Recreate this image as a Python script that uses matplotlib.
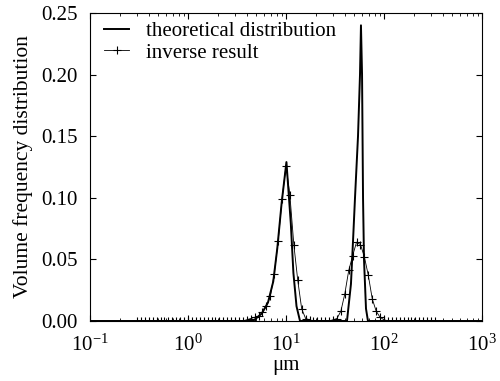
import matplotlib
matplotlib.use("Agg")
import matplotlib.pyplot as plt
from matplotlib.ticker import LogLocator

plt.rcParams['font.family'] = ['Liberation Serif', 'DejaVu Serif']
plt.rcParams['mathtext.fontset'] = 'stix'

# theoretical distribution (size in um, volume frequency)
theo_x = [0.1, 4.0, 4.61, 5.65, 6.55, 7.41, 8.15, 9.03, 10.1, 11.2, 11.9, 12.8, 13.9, 14.5,
          40.0, 41.9, 46.0, 48.3, 50.6, 54.3, 56.9, 58.2, 59.7, 61.1, 62.5, 65.5, 68.6, 72.0, 1000.0]
theo_y = [0.0, 0.0, 0.0, 0.006, 0.015, 0.032, 0.059, 0.096, 0.129, 0.079, 0.039, 0.012, 0.0, 0.0,
          0.0, 0.0, 0.03, 0.065, 0.10, 0.15, 0.20, 0.24, 0.20, 0.10, 0.05, 0.01, 0.0, 0.0, 0.0]

# inverse result
inv_x = [0.302, 0.331, 0.363, 0.398, 0.437, 0.479, 0.525, 0.575, 0.631, 0.692, 0.759, 0.832,
         0.912, 1.0, 1.096, 1.202, 1.318, 1.445, 1.585, 1.738, 1.905, 2.089, 2.291, 2.512,
         2.754, 3.020, 3.311, 3.631, 3.981, 4.365, 4.786, 5.248, 5.754, 6.310, 6.918, 7.586,
         8.318, 9.120, 10.0, 10.96, 12.02, 13.18, 14.45, 15.85, 17.38, 19.05, 20.89, 22.91,
         25.12, 27.54, 30.20, 33.11, 36.31, 39.81, 43.65, 47.86, 52.48, 57.54, 63.10, 69.18,
         75.86, 83.18, 91.20, 100.0, 109.6, 120.2, 131.8, 144.5, 158.5, 173.8, 190.5, 208.9,
         229.1, 251.2, 275.4, 302.0, 331.1]
inv_y = [0.0, 0.0, 0.0, 0.0, 0.0, 0.0, 0.0, 0.0, 0.0, 0.0, 0.0, 0.0,
         0.0, 0.0, 0.0, 0.0, 0.0, 0.0, 0.0, 0.0, 0.0, 0.0, 0.0, 0.0,
         0.0, 0.0, 0.0, 0.0, 0.001, 0.002, 0.003, 0.004, 0.007, 0.012, 0.020, 0.038,
         0.065, 0.099, 0.126, 0.102, 0.062, 0.033, 0.010, 0.002, 0.001, 0.0, 0.0, 0.0,
         0.0, 0.0, 0.001, 0.002, 0.008, 0.022, 0.041, 0.053, 0.064, 0.062, 0.052, 0.037,
         0.018, 0.008, 0.003, 0.001, 0.0, 0.0, 0.0, 0.0, 0.0, 0.0, 0.0, 0.0,
         0.0, 0.0, 0.0, 0.0, 0.0]

yticks = [0.0, 0.05, 0.10, 0.15, 0.20, 0.25]
ytick_labels = ['0.00', '0.05', '0.10', '0.15', '0.20', '0.25']

fig = plt.figure(figsize=(5.0, 3.81), dpi=100)
ax = fig.add_axes([0.18, 0.1575, 0.784, 0.8084])

ax.plot(theo_x, theo_y, color='black', lw=1.4, label='theoretical distribution')
ax.plot(inv_x, inv_y, color='black', lw=0.6, marker='+', markersize=6, markeredgewidth=0.8,
        label='inverse result')

ax.set_xscale('log')
ax.set_xlim(0.1, 1000)
ax.set_ylim(0, 0.25)
ax.set_yticks(yticks)
ax.set_yticklabels(ytick_labels)
ax.xaxis.set_major_locator(LogLocator(base=10, numticks=10))
ax.xaxis.set_minor_locator(LogLocator(base=10, subs=range(2, 10), numticks=20))

ax.tick_params(axis='both', which='both', direction='in', top=True, right=True, labelsize=15)
ax.tick_params(which='major', length=4)
ax.tick_params(which='minor', length=2)
ax.tick_params(axis='x', pad=10)
ax.tick_params(axis='y', pad=9)

ax.set_xlabel('μm', fontsize=15, labelpad=0)
ax.set_ylabel('Volume frequency distribution', fontsize=15.5, labelpad=6)

ax.legend(loc='upper left', bbox_to_anchor=(0.015, 1.0), frameon=False, fontsize=15,
          handlelength=1.2, borderaxespad=0.0, labelspacing=0.1, handletextpad=0.8)

fig.savefig('out.png', dpi=100)
